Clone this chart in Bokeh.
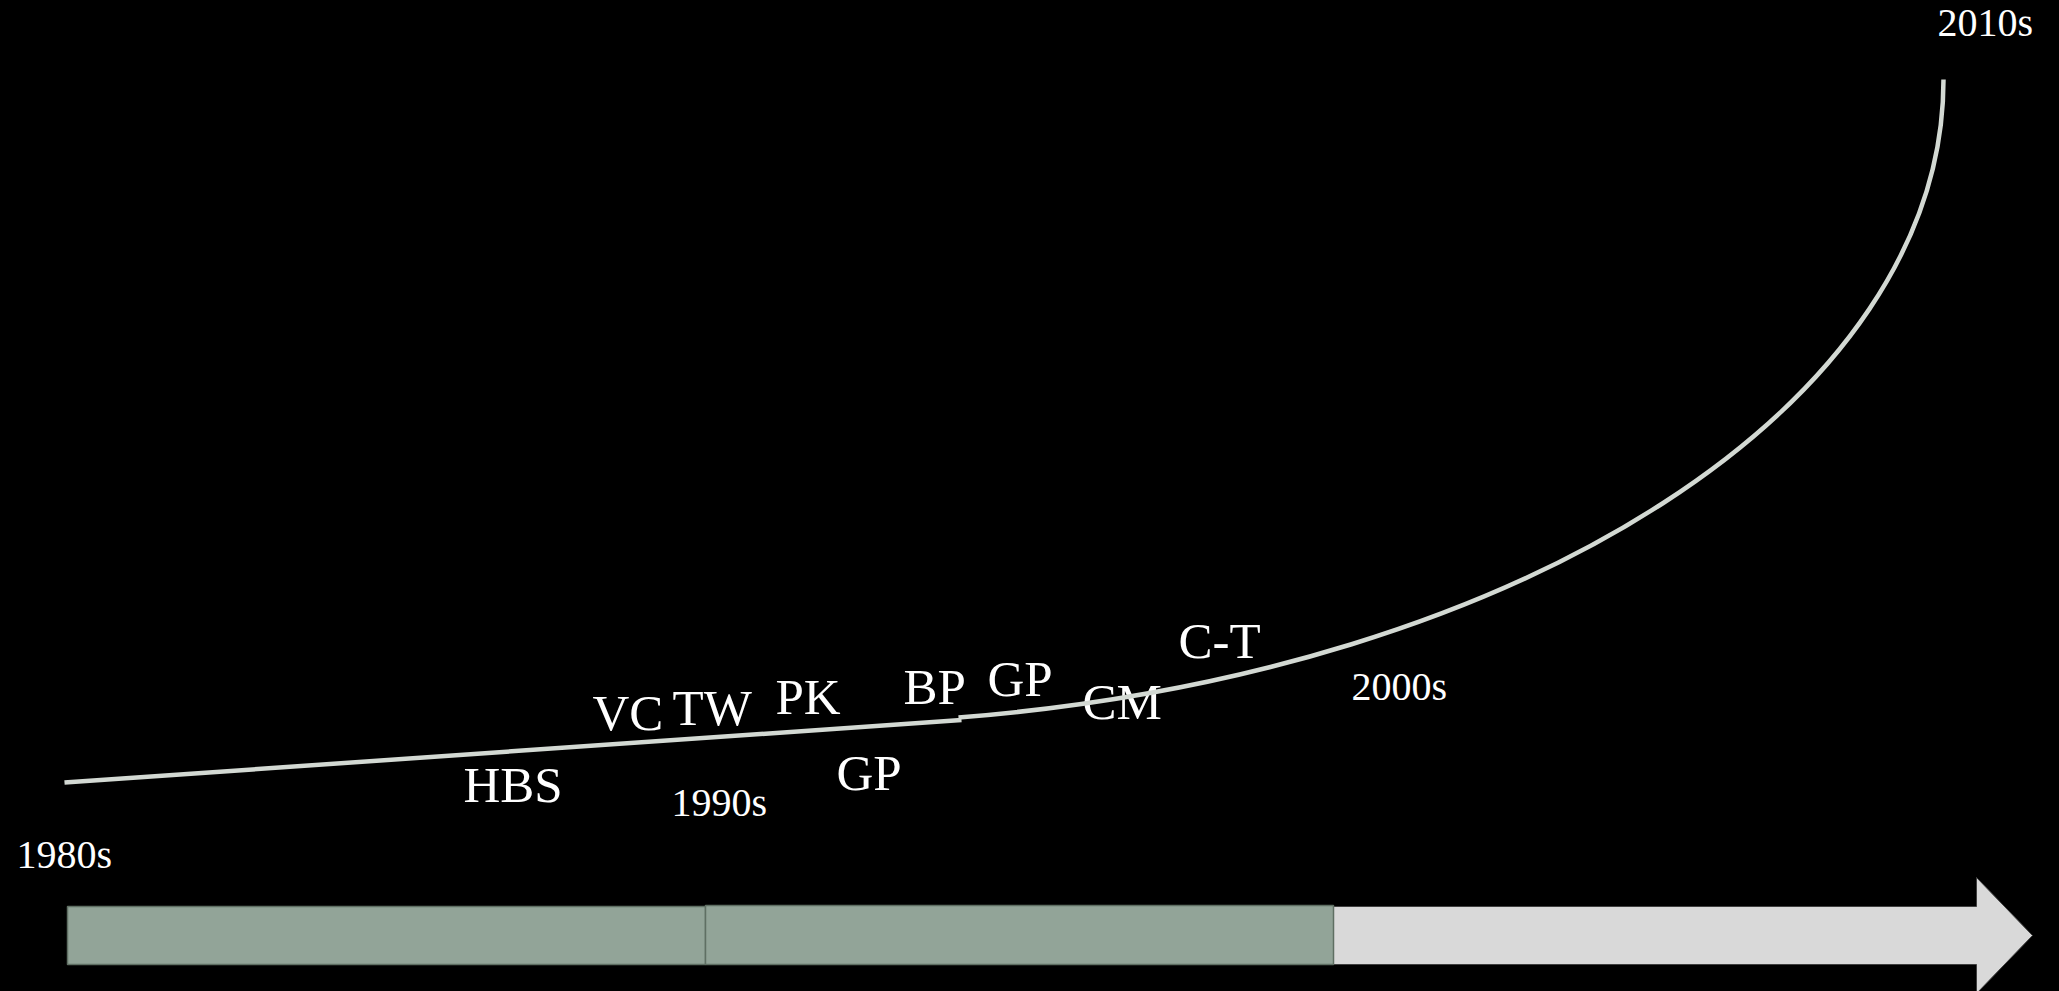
from bokeh.plotting import figure
from bokeh.models import Range1d
from bokeh.embed import file_html
from bokeh.resources import INLINE
from bokeh.core.properties import value

W, H = 2059, 991

# decade labels along the timeline
decades = ["1980s", "1990s", "2000s", "2010s"]
decade_x = [16, 671, 1351, 1937]
decade_y = [868, 816, 700, 36]

# events placed on the growth curve
events = ["HBS", "VC", "TW", "PK", "GP", "BP", "GP", "CM", "C-T"]
event_x = [463, 592, 672, 775, 836, 903, 987, 1082, 1178]
event_y = [801, 729, 724, 713, 789, 703, 695, 718, 657]

# growth line: a slow straight start, then an accelerating curve
early_x = [64, 961]
early_y = [782, 719.5]
curve_x0, curve_y0 = [958], [717]
curve_cx0, curve_cy0 = [1525], [672]
curve_cx1, curve_cy1 = [1943], [402]
curve_x1, curve_y1 = [1943], [79]

# decade bars on the timeline arrow
bar_left = [67, 705]
bar_right = [705, 1333]
bar_top = [906, 905]
bar_bottom = [964, 964]

# timeline arrow outline
arrow_x = [67, 1976, 1976, 2032, 1976, 1976, 67]
arrow_y = [906, 906, 877, 935, 993, 964, 964]

LINE = "#d3d9d3"
FONT = value("Liberation Serif")

p = figure(width=W, height=H, x_range=Range1d(0, W), y_range=Range1d(H, 0),
           output_backend="svg", toolbar_location=None, min_border=0,
           background_fill_color="black", border_fill_color="black",
           outline_line_color=None)
p.axis.visible = False
p.grid.visible = False

p.patch(arrow_x, arrow_y, fill_color="#d9d9d9", line_color="#404040", line_width=1)
p.quad(left=bar_left, right=bar_right, top=bar_top, bottom=bar_bottom,
       fill_color="#92a498", line_color="#5f6f63", line_width=1.5)

p.text(x=event_x, y=event_y, text=events, text_font=FONT, text_font_size="51px",
       text_color="white", text_align="left", text_baseline="alphabetic", y_offset=-17)
p.text(x=decade_x, y=decade_y, text=decades, text_font=FONT, text_font_size="40px",
       text_color="white", text_align="left", text_baseline="alphabetic", y_offset=-14)

p.line(early_x, early_y, line_color=LINE, line_width=4.5)
p.bezier(x0=curve_x0, y0=curve_y0, x1=curve_x1, y1=curve_y1,
         cx0=curve_cx0, cy0=curve_cy0, cx1=curve_cx1, cy1=curve_cy1,
         line_color=LINE, line_width=4.5)

html = file_html(p, INLINE)
html = html.replace("</head>",
                    "<style>html,body{margin:0;padding:0;background:#000;overflow:hidden}</style></head>", 1)
open("out.html", "w").write(html)
